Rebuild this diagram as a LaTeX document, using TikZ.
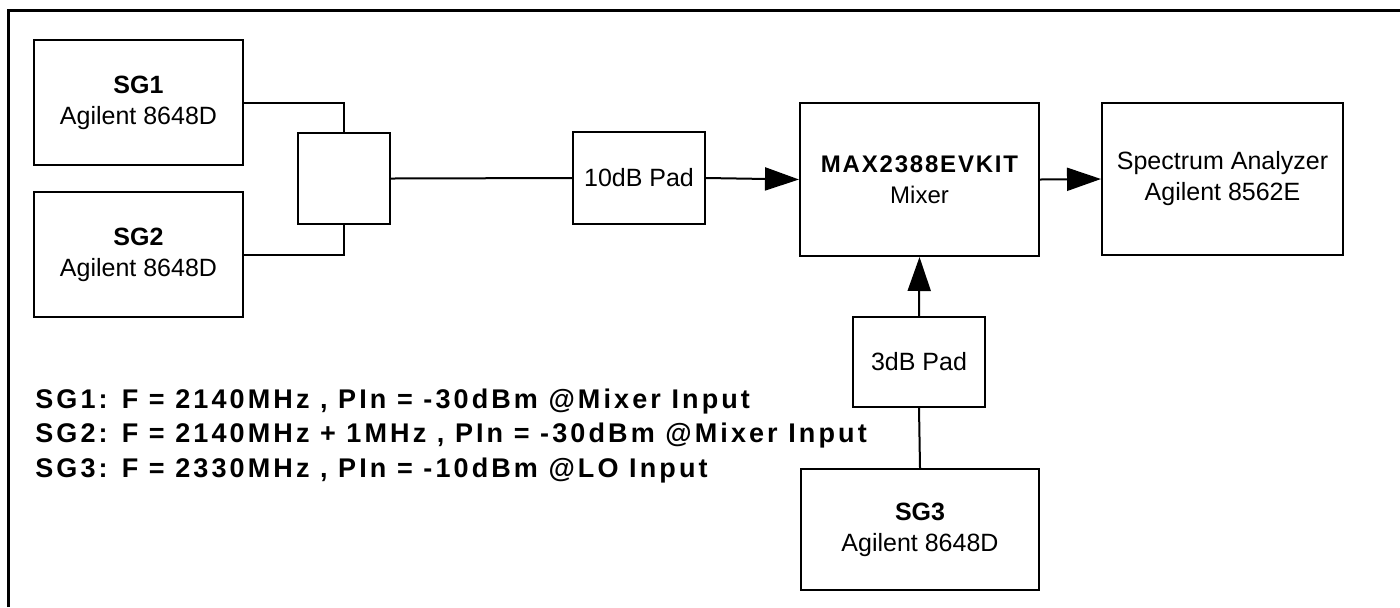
\documentclass[tikz,border=0pt]{standalone}
\usepackage{fontspec}
\setmainfont{Liberation Sans}
\newfontfamily\spbf[LetterSpace=11.5]{Liberation Sans}
\newfontfamily\spbfm[LetterSpace=7.5]{Liberation Sans}
\usetikzlibrary{arrows.meta}
\tikzset{
  box/.style={draw=black, line width=1pt, rectangle, inner sep=0pt, align=center,
    font=\fontsize{12.5}{15.5}\selectfont},
  wire/.style={draw=black, line width=1pt},
  arr/.style={wire, -{Triangle[length=17pt,width=11.5pt]}},
  note/.style={anchor=base west, inner sep=0pt, font=\fontsize{13.5}{15}\selectfont\spbf\bfseries},
}
\begin{document}
\begin{tikzpicture}[x=0.5pt,y=-0.5pt]
\useasboundingbox (0,0) rectangle (1400,607);
% frame (left and top only)
\coordinate (fa) at (8,607);
\coordinate (fb) at (8,10);
\coordinate (fc) at (1400,10);
\draw[line width=1.5pt] (fa) -- (fb) -- (fc);

\node[box, minimum width=104.5pt, minimum height=62.5pt] (sg1) at (138.5,102.5) {\textbf{SG1}\\Agilent 8648D};
\node[box, minimum width=104.5pt, minimum height=62.5pt] (sg2) at (138.5,254.5) {\textbf{SG2}\\Agilent 8648D};
\node[box, minimum width=46pt, minimum height=45.5pt] (comb) at (344,178.5) {};
\node[box, minimum width=66pt, minimum height=46pt] (pad10) at (639,178) {10dB Pad};
\node[box, minimum width=119.5pt, minimum height=76.5pt] (mixer) at (919.5,179.5)
  {{\fontsize{12}{15.5}\selectfont\spbfm\bfseries MAX2388EVKIT}\\{\fontsize{12}{15.5}\selectfont Mixer}};
\node[box, minimum width=120.5pt, minimum height=76pt] (sa) at (1222.5,179) {Spectrum Analyzer\\Agilent 8562E};
\node[box, minimum width=66pt, minimum height=45pt] (pad3) at (919,362) {3dB Pad};
\node[box, minimum width=119pt, minimum height=60.5pt] (sg3) at (920,529.5) {\textbf{SG3}\\Agilent 8648D};

\draw[wire] (sg1.east) -| (comb.north);
\draw[wire] (sg2.east) -| (comb.south);
\draw[wire] (comb.east) -- (pad10.west);
\draw[arr] (pad10.east) -- (mixer.west);
\draw[arr] (mixer.east) -- (sa.west);
\draw[arr] (pad3.north) -- (mixer.south);
\draw[wire] (sg3.north) -- (pad3.south);

\node[note] (t1) at (35,408) {SG1: F = 2140MHz , PIn = -30dBm @Mixer Input};
\node[note] (t2) at (35,442) {SG2: F = 2140MHz + 1MHz , PIn = -30dBm @Mixer Input};
\node[note] (t3) at (35,477) {SG3: F = 2330MHz , PIn = -10dBm @LO Input};
\end{tikzpicture}
\end{document}
